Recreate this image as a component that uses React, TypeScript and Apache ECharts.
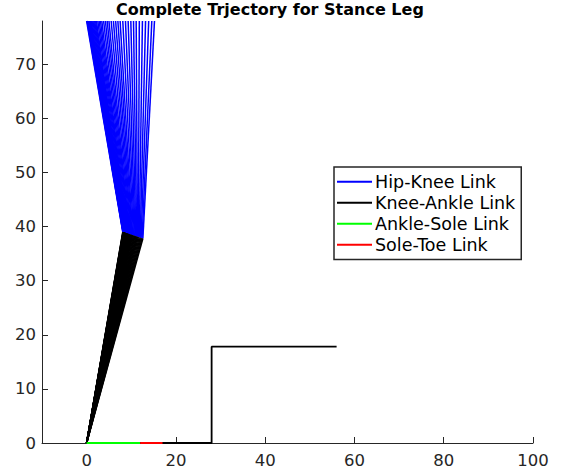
import React, { useEffect, useRef } from "react";
import * as echarts from "echarts";

const hipX = [0, 0.1, 0.2, 0.3, 0.4, 0.5, 0.6, 0.7, 0.8, 0.9, 1.0, 1.2, 1.4, 1.6, 1.8, 2.0, 2.2, 2.5, 2.8, 3.1, 3.4, 3.8, 4.2, 4.6, 5.0, 5.5, 6.0, 6.5, 7.0, 7.5, 8.1, 8.7, 9.3, 9.9, 10.5, 11.1, 11.8, 12.5, 13.2, 13.9, 14.6, 15.2];
const hipY = [78, 78, 78, 78, 78, 78, 78, 78, 78, 78, 78, 78, 78, 78, 78, 78, 78, 78, 78, 78, 78, 78, 78, 78, 78, 78, 78, 78, 78, 78, 78, 78, 78, 78, 78, 78, 78, 78, 78, 78, 78, 78];
const kneeX = [8.10, 8.13, 8.16, 8.19, 8.22, 8.25, 8.28, 8.31, 8.34, 8.37, 8.40, 8.46, 8.51, 8.57, 8.63, 8.69, 8.75, 8.84, 8.93, 9.02, 9.11, 9.22, 9.34, 9.46, 9.58, 9.73, 9.88, 10.02, 10.17, 10.32, 10.50, 10.68, 10.85, 11.03, 11.21, 11.39, 11.59, 11.80, 12.01, 12.21, 12.42, 12.60];
const kneeY = [39.00, 38.99, 38.98, 38.98, 38.97, 38.96, 38.95, 38.94, 38.94, 38.93, 38.92, 38.91, 38.89, 38.87, 38.86, 38.84, 38.83, 38.80, 38.78, 38.76, 38.73, 38.70, 38.67, 38.64, 38.61, 38.57, 38.53, 38.49, 38.45, 38.41, 38.36, 38.31, 38.27, 38.22, 38.17, 38.12, 38.07, 38.01, 37.96, 37.90, 37.85, 37.80];
const ankle = [0, 0];
const sole = [12, 0];
const toe = [17, 0];
const groundX = [0, 28, 28, 56];
const groundY = [0, 0, 17.8, 17.8];
const xTicks = [0, 20, 40, 60, 80, 100];
const yTicks = [0, 10, 20, 30, 40, 50, 60, 70];
const legendNames = ["Hip-Knee Link", "Knee-Ankle Link", "Ankle-Sole Link", "Sole-Toe Link"];

const FONT = "DejaVu Sans";
const AX = "#262626";

export default function App() {
  const ref = useRef<HTMLDivElement>(null);
  useEffect(() => {
    if (!ref.current) return;
    const chart = echarts.init(ref.current, undefined, { renderer: "svg" });
    const hipKnee = hipX.map((hx, i) => ({ coords: [[hx, hipY[i]], [kneeX[i], kneeY[i]]] }));
    const kneeAnkle = kneeX.map((kx, i) => ({ coords: [[kx, kneeY[i]], ankle] }));
    const axisCommon = {
      axisLine: { show: true, onZero: false, lineStyle: { color: AX, width: 1 } },
      axisTick: { show: true, inside: true, length: 6, lineStyle: { color: AX, width: 1 } },
      splitLine: { show: false },
      axisLabel: { color: AX, fontFamily: FONT, fontSize: 16.5 },
    };
    chart.setOption({
      animation: false,
      backgroundColor: "#ffffff",
      title: {
        text: "Complete Trjectory for Stance Leg",
        left: 116,
        top: 1,
        padding: 0,
        textStyle: { fontFamily: FONT, fontSize: 16, fontWeight: "bold", color: "#000" },
      },
      legend: {
        data: legendNames,
        orient: "vertical",
        left: 334,
        top: 167,
        padding: [5, 6, 5, 3],
        itemGap: 1.5,
        itemWidth: 35,
        itemHeight: 2,
        icon: "rect",
        itemStyle: { borderWidth: 0 },
        borderColor: "#262626",
        borderWidth: 1.5,
        borderRadius: 0,
        backgroundColor: "#fff",
        textStyle: { fontFamily: FONT, fontSize: 17.5, color: "#000", lineHeight: 19.5, padding: [0, 0, 0, -2] },
      },
      grid: { left: 42, right: 34, top: 21, bottom: 31, containLabel: false },
      xAxis: {
        type: "value",
        min: -10,
        max: 100,
        ...axisCommon,
        axisTick: { ...axisCommon.axisTick, customValues: xTicks },
        axisLabel: { ...axisCommon.axisLabel, customValues: xTicks, margin: 9 },
      },
      yAxis: {
        type: "value",
        min: 0,
        max: 78,
        ...axisCommon,
        axisTick: { ...axisCommon.axisTick, customValues: yTicks },
        axisLabel: { ...axisCommon.axisLabel, customValues: yTicks, margin: 6 },
      },
      series: [
        {
          type: "line",
          name: "ground",
          data: groundX.map((x, i) => [x, groundY[i]]),
          symbol: "none",
          lineStyle: { color: "#000", width: 1.8 },
          itemStyle: { color: "#000" },
          z: 1,
        },
        {
          type: "lines",
          name: "Hip-Knee Link",
          coordinateSystem: "cartesian2d",
          data: hipKnee,
          lineStyle: { color: "#0000ff", width: 1.5, opacity: 1 },
          z: 2,
        },
        {
          type: "lines",
          name: "Knee-Ankle Link",
          coordinateSystem: "cartesian2d",
          data: kneeAnkle,
          lineStyle: { color: "#000000", width: 1.5, opacity: 1 },
          z: 3,
        },
        {
          type: "lines",
          name: "Ankle-Sole Link",
          coordinateSystem: "cartesian2d",
          data: [{ coords: [ankle, sole] }],
          lineStyle: { color: "#00ff00", width: 2, opacity: 1 },
          z: 4,
        },
        {
          type: "lines",
          name: "Sole-Toe Link",
          coordinateSystem: "cartesian2d",
          data: [{ coords: [sole, toe] }],
          lineStyle: { color: "#ff0000", width: 2, opacity: 1 },
          z: 4,
        },
      ],
    });
    return () => chart.dispose();
  }, []);
  return <div ref={ref} style={{ position: "absolute", left: 0, top: 0, width: 567, height: 474 }} />;
}
